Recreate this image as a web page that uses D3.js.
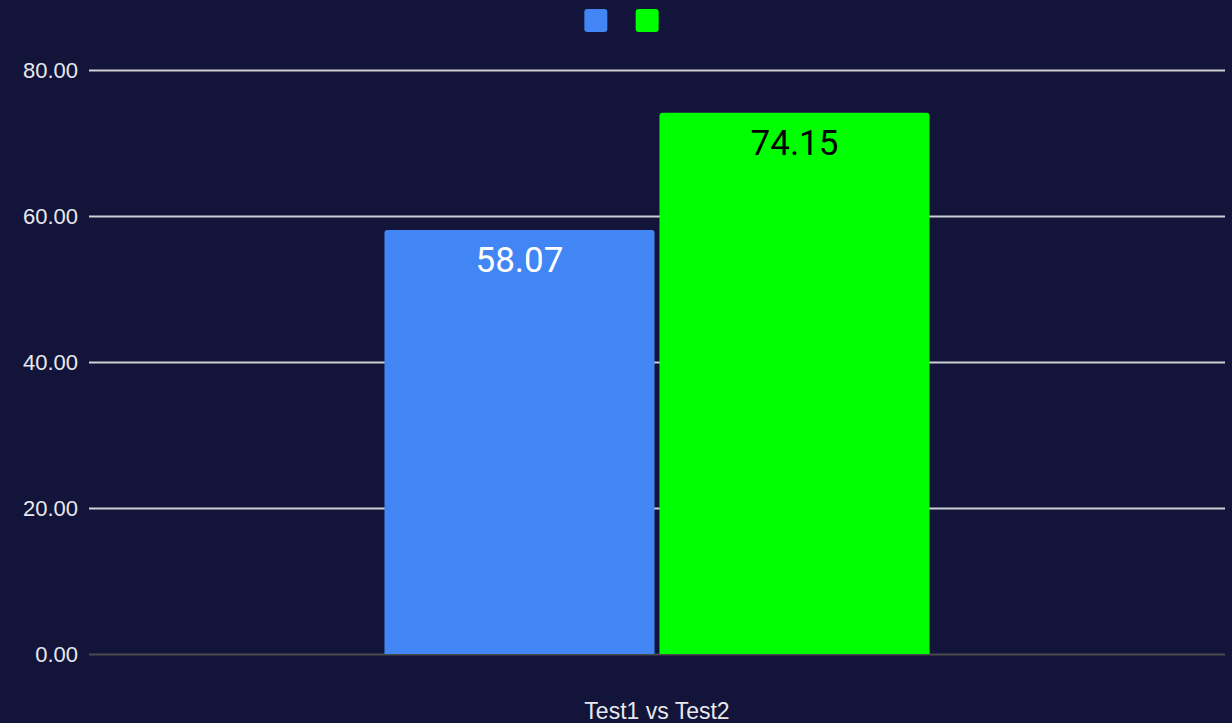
<!DOCTYPE html>
<html>
<head>
<meta charset="utf-8">
<script src="https://cdn.jsdelivr.net/npm/d3@7"></script>
<style>
  html, body { margin: 0; padding: 0; background: #12143a; }
  svg { display: block; }
</style>
</head>
<body>
<div id="chart"></div>
<script>
// Chart data
var categories = ["Test1 vs Test2"];
var seriesNames = ["", ""];
var seriesValues = [58.07, 74.15];
var seriesColors = ["#4285f4", "#00ff00"];
var labelColors = ["#ffffff", "#000000"];
var yTicks = [0, 20, 40, 60, 80];

var W = 1232, H = 723;
var margin = {top: 70, right: 7, bottom: 69, left: 89},
    width = W - margin.left - margin.right,
    height = H - margin.top - margin.bottom;

var svg = d3.select("#chart")
  .append("svg")
    .attr("width", W)
    .attr("height", H)
    .style("background", "#12143a");

var g = svg.append("g")
    .attr("transform", "translate(" + margin.left + "," + margin.top + ")");

// Scales
var y = d3.scaleLinear()
  .domain([0, 80])
  .range([height, 0]);

var x0 = d3.scaleBand()
  .domain(categories)
  .range([0, width])
  .paddingInner(0)
  .paddingOuter(0.542);

var x1 = d3.scaleBand()
  .domain(d3.range(seriesValues.length))
  .range([0, x0.bandwidth()])
  .paddingInner(0.018);

// Gridlines + y labels
var yAxis = g.append("g")
  .attr("class", "y-axis")
  .call(d3.axisLeft(y).tickValues(yTicks).tickSize(-width).tickPadding(11)
    .tickFormat(d3.format(".2f")));
yAxis.select(".domain").remove();
yAxis.selectAll(".tick line")
  .attr("stroke", function(d) { return d === 0 ? "#4a4a48" : "#cfcfd6"; })
  .attr("stroke-width", 2);
yAxis.selectAll(".tick text")
  .attr("fill", "#e8e8ee")
  .style("font-family", "'Liberation Sans', Arial, sans-serif")
  .style("font-size", "22px");

// Rounded-top bar path
function barPath(x, yTop, w, h, r) {
  return "M" + x + "," + (yTop + h) +
    "V" + (yTop + r) +
    "Q" + x + "," + yTop + " " + (x + r) + "," + yTop +
    "H" + (x + w - r) +
    "Q" + (x + w) + "," + yTop + " " + (x + w) + "," + (yTop + r) +
    "V" + (yTop + h) + "Z";
}

var groups = g.selectAll(".cat")
  .data(categories)
  .enter().append("g")
    .attr("class", "cat")
    .attr("transform", function(d) { return "translate(" + x0(d) + ",0)"; });

groups.selectAll("path.bar")
  .data(seriesValues)
  .enter().append("path")
    .attr("class", "bar")
    .attr("d", function(d, i) {
      return barPath(x1(i), y(d), x1.bandwidth(), y(0) - y(d), 3);
    })
    .attr("fill", function(d, i) { return seriesColors[i]; });

groups.selectAll("text.val")
  .data(seriesValues)
  .enter().append("text")
    .attr("class", "val")
    .attr("x", function(d, i) { return x1(i) + x1.bandwidth() / 2; })
    .attr("y", function(d) { return y(d) + 42; })
    .attr("text-anchor", "middle")
    .attr("fill", function(d, i) { return labelColors[i]; })
    .style("font-family", "Roboto, sans-serif")
    .style("font-size", "35px")
    .text(function(d) { return d3.format(".2f")(d); });

// X axis category label
g.append("g")
  .attr("class", "x-axis")
  .selectAll("text")
  .data(categories)
  .enter().append("text")
    .attr("x", function(d) { return x0(d) + x0.bandwidth() / 2; })
    .attr("y", height + 65)
    .attr("text-anchor", "middle")
    .attr("fill", "#e8e8ee")
    .style("font-family", "'Liberation Sans', Arial, sans-serif")
    .style("font-size", "23px")
    .text(function(d) { return d; });

// Legend (swatches only)
var legend = svg.append("g").attr("class", "legend");
var legendX = d3.scaleBand()
  .domain(d3.range(seriesNames.length))
  .range([583, 660])
  .paddingInner(0.5);
legend.selectAll("rect")
  .data(seriesNames)
  .enter().append("rect")
    .attr("x", function(d, i) { return legendX(i) + (legendX.bandwidth() - 23) / 2; })
    .attr("y", 9)
    .attr("width", 23)
    .attr("height", 23)
    .attr("rx", 3)
    .attr("fill", function(d, i) { return seriesColors[i]; });
legend.selectAll("text")
  .data(seriesNames)
  .enter().append("text")
    .attr("x", function(d, i) { return legendX(i) + legendX.bandwidth(); })
    .attr("y", 27)
    .attr("fill", "#e8e8ee")
    .style("font-family", "Roboto, sans-serif")
    .style("font-size", "16px")
    .text(function(d) { return d; });
</script>
</body>
</html>
